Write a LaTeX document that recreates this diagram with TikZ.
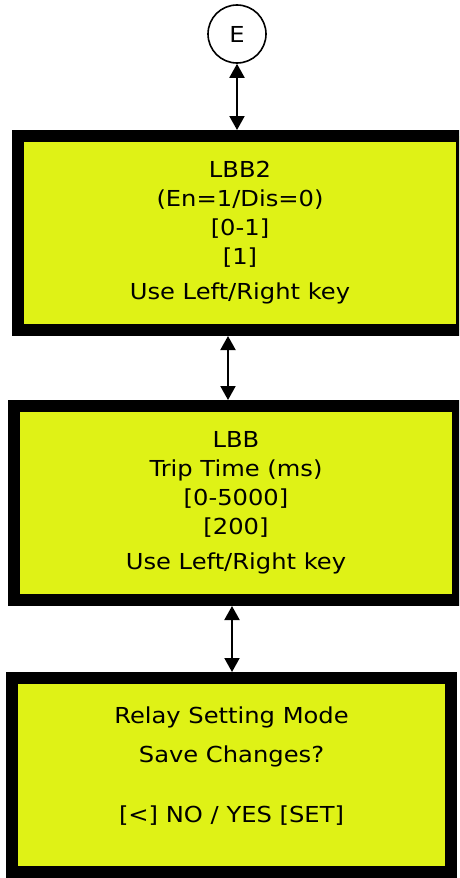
\documentclass[tikz,border=0pt]{standalone}
\usepackage{fontspec}
\setmainfont{DejaVu Sans}[FakeStretch=1.1]
\usetikzlibrary{arrows.meta}
\definecolor{lcdyellow}{RGB}{223,242,22}
\tikzset{
  screen/.style={draw=black, line width=12pt, fill=lcdyellow, rectangle,
    minimum height=194pt, align=center, inner sep=0pt,
    font=\fontsize{22}{29}\selectfont},
  link/.style={line width=2pt, {Triangle[length=14pt,width=15pt]}-{Triangle[length=14pt,width=15pt]}},
  connector/.style={draw=black, line width=1.6pt, circle, minimum size=58pt,
    inner sep=0pt, font=\fontsize{22}{26}\selectfont}
}
\begin{document}
\begin{tikzpicture}[x=1pt, y=-1pt]
  \useasboundingbox (0,0) rectangle (459,878);
  \clip (0,0) rectangle (459,878);
  \fill[white] (0,0) rectangle (459,878);

  \node[connector] (e) at (237,34) {E};

  \node[screen, minimum width=444pt] (lbb2) at (240,233)
    {LBB2\\(En=1/Dis=0)\\{}[0-1]\\{}[1]\\[6pt]Use Left/Right key};
  \node[screen, minimum width=444pt] (lbb) at (236,503)
    {LBB\\Trip Time (ms)\\{}[0-5000]\\{}[200]\\[6pt]Use Left/Right key};
  \node[screen, minimum width=439pt] (save) at (231.5,775)
    {Relay Setting Mode\\[10pt]Save Changes?\\[31pt]{}[<] NO / YES [SET]\\[-9pt]};

  \coordinate (a2) at (228,0);
  \coordinate (a3) at (232,0);

  \draw[link] (e.south) -- (e.south |- lbb2.north);
  \draw[link] (lbb2.south -| a2) -- (lbb.north -| a2);
  \draw[link] (lbb.south -| a3) -- (save.north -| a3);
\end{tikzpicture}
\end{document}
